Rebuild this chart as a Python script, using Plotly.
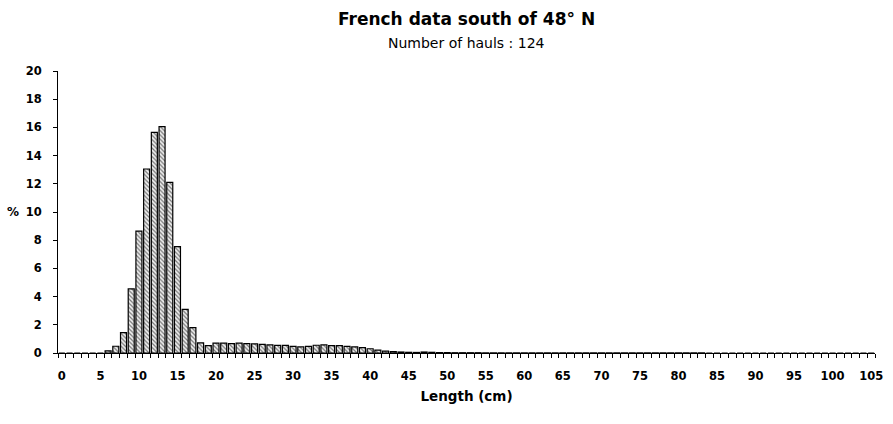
import plotly.graph_objects as go

lengths = list(range(0, 106))
pct_head = [0, 0, 0, 0, 0, 0, 0.15, 0.48, 1.45, 4.55, 8.65, 13.05, 15.65, 16.05, 12.1, 7.55,
            3.1, 1.8, 0.72, 0.52, 0.7, 0.7, 0.66, 0.7, 0.66, 0.65, 0.61, 0.57, 0.54, 0.54,
            0.47, 0.43, 0.47, 0.55, 0.57, 0.52, 0.52, 0.47, 0.43, 0.38, 0.3, 0.2, 0.14, 0.1,
            0.07, 0.05, 0.04, 0.07, 0.05, 0.03, 0.03, 0.02, 0.02, 0.02, 0.02]
pct_tail = [0.01] * 29 + [0] * 22
percent = pct_head + pct_tail
x_ticks = list(range(0, 106, 5))
y_ticks = list(range(0, 21, 2))

FONT = "DejaVu Sans, Verdana, sans-serif"

fig = go.Figure(go.Bar(
    x=lengths, y=percent,
    marker=dict(color="white", line=dict(color="black", width=1.2),
                pattern=dict(shape="\\", fgcolor="black", bgcolor="#eeeeee", size=3, solidity=0.4)),
    width=0.78,
))

fig.update_layout(
    width=893, height=424,
    margin=dict(l=58, r=10, t=71, b=71),
    paper_bgcolor="white", plot_bgcolor="white",
    showlegend=False,
    font=dict(family=FONT, color="black"),
    xaxis=dict(range=[-0.5, 105.5], tickvals=x_ticks, ticktext=[str(v) for v in x_ticks],
               ticks="", showgrid=False, zeroline=False, showline=True, linecolor="black", linewidth=1,
               tickfont=dict(size=11.5, weight="bold"), ticklabelstandoff=12,
               minor=dict(tickvals=[k - 0.5 for k in range(0, 107)], ticks="outside", ticklen=4,
                          tickcolor="black", tickwidth=1, showgrid=False),
               title=dict(text="Length (cm)", font=dict(size=13.5, weight="bold"), standoff=9)),
    yaxis=dict(range=[0, 20], tickvals=y_ticks, ticks="outside", ticklen=4, tickcolor="black",
               showgrid=False, zeroline=False, showline=True, linecolor="black", linewidth=1,
               tickfont=dict(size=11.5, weight="bold"), ticklabelstandoff=9),
    annotations=[
        dict(text="<b>French data south of 48° N</b>", x=0.5, xref="paper", y=19, yref="paper",
             yanchor="middle", xanchor="center", showarrow=False, font=dict(size=17)),
        dict(text="Number of hauls : 124", x=0.5, xref="paper", y=43, yref="paper",
             yanchor="middle", xanchor="center", showarrow=False, font=dict(size=14)),
        dict(text="<b>%</b>", x=13, y=10, xref="paper", yref="y", showarrow=False,
             xanchor="center", yanchor="middle", font=dict(size=12)),
    ],
)

# convert pixel positions for annotations into paper coords
H = 424 - 71 - 71
W = 893 - 58 - 10
for a in fig.layout.annotations:
    if a.yref == "paper":
        a.y = 1 + (71 - a.y) / H
    if a.xref == "paper" and a.x > 1:
        a.x = (a.x - 58) / W

fig.write_html("out.html")
